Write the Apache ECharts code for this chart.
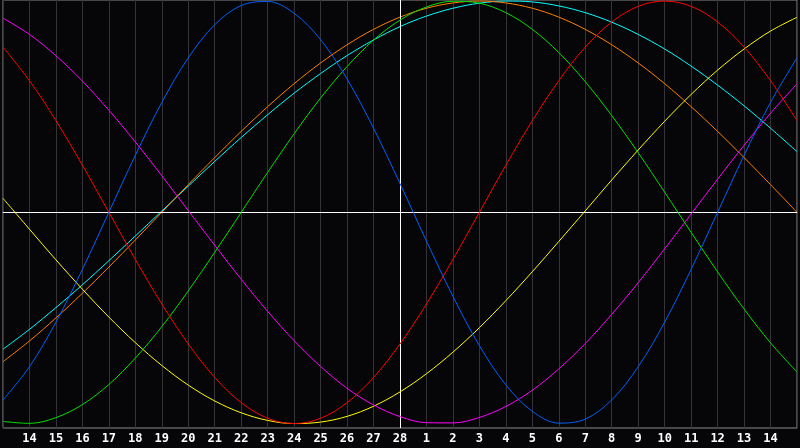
<!DOCTYPE html>
<html>
<head>
<meta charset="utf-8">
<script src="https://cdn.jsdelivr.net/npm/echarts@6/dist/echarts.min.js"></script>
<style>
  html, body { margin: 0; padding: 0; background: #060609; }
  #chart { width: 800px; height: 448px; }
</style>
</head>
<body>
<div id="chart"></div>
<script>
// Day labels (first and last gridline are unlabelled)
const days = ['13','14','15','16','17','18','19','20','21','22','23','24','25','26','27','28',
              '1','2','3','4','5','6','7','8','9','10','11','12','13','14','15'];
const today = '28';

// Cycle values (-1 .. 1), one per day
const physical = [-0.888,-0.731,-0.520,-0.270,0.000,0.270,0.520,0.731,0.888,0.979,0.998,0.942,0.817,0.631,0.398,0.136,
                  -0.136,-0.398,-0.631,-0.817,-0.942,-0.998,-0.979,-0.888,-0.731,-0.520,-0.270,0.000,0.270,0.520,0.731];
const emotional = [0.782,0.623,0.434,0.223,0.000,-0.223,-0.434,-0.623,-0.782,-0.901,-0.975,-1.000,-0.975,-0.901,-0.782,-0.623,
                   -0.434,-0.223,0.000,0.223,0.434,0.623,0.782,0.901,0.975,1.000,0.975,0.901,0.782,0.623,0.434];
const intellectual = [-0.990,-0.999,-0.972,-0.910,-0.815,-0.690,-0.541,-0.372,-0.189,0.000,0.189,0.372,0.541,0.690,0.815,0.910,
                      0.972,0.999,0.990,0.945,0.866,0.756,0.618,0.458,0.282,0.095,-0.095,-0.282,-0.458,-0.618,-0.756];
const intuitive = [0.919,0.842,0.741,0.621,0.483,0.333,0.173,0.008,-0.156,-0.317,-0.469,-0.608,-0.730,-0.833,-0.912,-0.967,
                   -0.996,-0.997,-0.971,-0.919,-0.842,-0.741,-0.621,-0.483,-0.333,-0.173,-0.008,0.157,0.317,0.469,0.608];
const aesthetic = [0.066,-0.080,-0.225,-0.364,-0.496,-0.617,-0.725,-0.818,-0.893,-0.949,-0.985,-1.000,-0.993,-0.966,-0.918,-0.850,
                   -0.764,-0.662,-0.546,-0.418,-0.281,-0.138,0.007,0.153,0.295,0.431,0.558,0.673,0.773,0.858,0.923];
const awareness = [-0.707,-0.609,-0.500,-0.383,-0.259,-0.131,0.000,0.131,0.259,0.383,0.500,0.609,0.707,0.793,0.866,0.924,
                   0.966,0.991,1.000,0.991,0.966,0.924,0.866,0.793,0.707,0.609,0.500,0.383,0.259,0.131,0.000];
const spiritual = [-0.648,-0.554,-0.451,-0.343,-0.229,-0.112,0.006,0.124,0.241,0.354,0.462,0.564,0.657,0.742,0.816,0.879,
                   0.929,0.966,0.990,1.000,0.996,0.977,0.945,0.900,0.842,0.773,0.692,0.602,0.504,0.398,0.287];

const seriesDefs = [
  { name: 'Spiritual', data: spiritual, color: '#00ffff' },
  { name: 'Awareness', data: awareness, color: '#ff8000' },
  { name: 'Aesthetic', data: aesthetic, color: '#ffff00' },
  { name: 'Intuitive', data: intuitive, color: '#ff00ff' },
  { name: 'Intellectual', data: intellectual, color: '#00e000' },
  { name: 'Emotional', data: emotional, color: '#ff0000' },
  { name: 'Physical', data: physical, color: '#0060ff' }
];

const chart = echarts.init(document.getElementById('chart'), null, { renderer: 'canvas' });

const series = seriesDefs.map((s, i) => ({
  name: s.name,
  type: 'line',
  data: s.data,
  smooth: 0.35,
  symbol: 'none',
  lineStyle: { color: s.color, width: 1 },
  itemStyle: { color: s.color },
  z: 3 + i
}));

series.push({
  type: 'line',
  data: [],
  z: 2,
  markLine: {
    silent: true,
    symbol: 'none',
    animation: false,
    label: { show: false },
    lineStyle: { color: '#ffffff', width: 1, type: 'solid' },
    data: [{ xAxis: today }, { yAxis: 0 }]
  }
});

chart.setOption({
  backgroundColor: '#060609',
  animation: false,
  grid: {
    left: 0, right: 0, top: 0, bottom: 20,
    show: true,
    borderColor: '#8a8a8a',
    borderWidth: 1,
    backgroundColor: 'transparent'
  },
  xAxis: {
    type: 'category',
    data: days,
    boundaryGap: false,
    axisLine: { show: true, lineStyle: { color: '#8a8a8a', width: 1 } },
    axisTick: { show: false },
    splitLine: { show: true, interval: 0, lineStyle: { color: '#333338', width: 1 } },
    axisLabel: {
      interval: 0,
      color: '#ffffff',
      fontFamily: 'DejaVu Sans Mono',
      fontWeight: 'bold',
      fontSize: 12,
      margin: 5,
      formatter: (v, idx) => (idx === 0 || idx === days.length - 1) ? '' : v
    }
  },
  yAxis: {
    type: 'value',
    min: -1.021,
    max: 1.005,
    show: false,
    splitLine: { show: false }
  },
  series: series
});
</script>
</body>
</html>
